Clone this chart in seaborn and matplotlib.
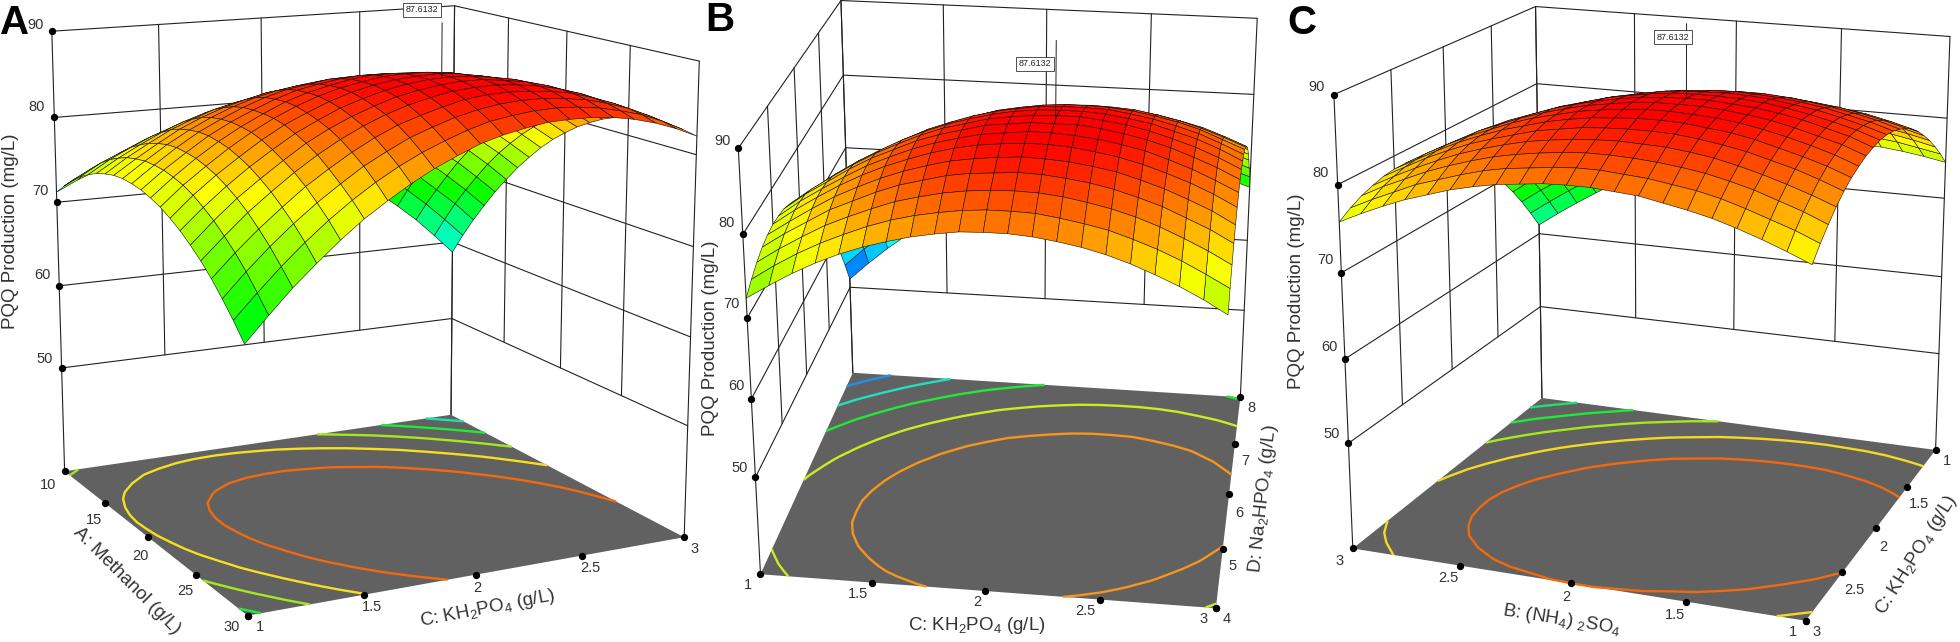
import numpy as np
import matplotlib
matplotlib.use("Agg")
import matplotlib.pyplot as plt
import seaborn as sns
from mpl_toolkits.mplot3d.art3d import Poly3DCollection

sns.set_theme(style="white")
plt.rcParams['font.family'] = ['Liberation Sans', 'DejaVu Sans']
plt.rcParams['mathtext.fontset'] = 'custom'
plt.rcParams['mathtext.rm'] = 'Liberation Sans'
plt.rcParams['mathtext.default'] = 'regular'

W, H = 1960, 642
S = 900

z_ticks = [50, 60, 70, 80, 90]
floor_z = 37.2
peak_label = "87.6132"

# PQQ values
kh2po4_up = [1, 1.1, 1.2, 1.3, 1.4, 1.5, 1.6, 1.7, 1.8, 1.9, 2, 2.1, 2.2, 2.3, 2.4, 2.5, 2.6, 2.7, 2.8, 2.9, 3]
kh2po4_down = [3, 2.9, 2.8, 2.7, 2.6, 2.5, 2.4, 2.3, 2.2, 2.1, 2, 1.9, 1.8, 1.7, 1.6, 1.5, 1.4, 1.3, 1.2, 1.1, 1]
methanol = [10, 11, 12, 13, 14, 15, 16, 17, 18, 19, 20, 21, 22, 23, 24, 25, 26, 27, 28, 29, 30]
na2hpo4 = [4, 4.2, 4.4, 4.6, 4.8, 5, 5.2, 5.4, 5.6, 5.8, 6, 6.2, 6.4, 6.6, 6.8, 7, 7.2, 7.4, 7.6, 7.8, 8]
nh4so4 = [3, 2.9, 2.8, 2.7, 2.6, 2.5, 2.4, 2.3, 2.2, 2.1, 2, 1.9, 1.8, 1.7, 1.6, 1.5, 1.4, 1.3, 1.2, 1.1, 1]

pqq_a = [
    [71.2, 72.4, 73.4, 74.2, 74.8, 75.2, 75.4, 75.5, 75.3, 75.0, 74.5, 73.7, 72.8, 71.7, 70.4, 69.0, 67.3, 65.4, 63.4, 61.1, 58.7],
    [72.4, 73.7, 74.7, 75.6, 76.3, 76.8, 77.1, 77.2, 77.1, 76.8, 76.4, 75.7, 74.9, 73.9, 72.6, 71.3, 69.7, 67.9, 65.9, 63.7, 61.4],
    [73.5, 74.8, 75.9, 76.9, 77.6, 78.2, 78.6, 78.8, 78.7, 78.5, 78.2, 77.6, 76.8, 75.9, 74.7, 73.4, 71.9, 70.2, 68.2, 66.2, 63.9],
    [74.4, 75.8, 76.9, 78.0, 78.8, 79.4, 79.9, 80.2, 80.2, 80.1, 79.8, 79.3, 78.6, 77.7, 76.6, 75.4, 73.9, 72.3, 70.4, 68.4, 66.2],
    [75.1, 76.6, 77.8, 78.9, 79.8, 80.5, 81.1, 81.4, 81.5, 81.5, 81.2, 80.8, 80.2, 79.4, 78.4, 77.2, 75.8, 74.2, 72.5, 70.5, 68.4],
    [75.7, 77.2, 78.5, 79.7, 80.7, 81.5, 82.1, 82.5, 82.7, 82.7, 82.5, 82.2, 81.6, 80.9, 80.0, 78.9, 77.5, 76.0, 74.4, 72.5, 70.4],
    [76.1, 77.7, 79.1, 80.4, 81.4, 82.3, 82.9, 83.4, 83.7, 83.8, 83.7, 83.4, 82.9, 82.3, 81.4, 80.4, 79.1, 77.7, 76.1, 74.3, 72.3],
    [76.4, 78.0, 79.5, 80.9, 82.0, 82.9, 83.6, 84.2, 84.5, 84.7, 84.7, 84.5, 84.0, 83.5, 82.7, 81.7, 80.5, 79.2, 77.7, 75.9, 74.0],
    [76.5, 78.2, 79.8, 81.2, 82.4, 83.4, 84.2, 84.8, 85.2, 85.5, 85.5, 85.4, 85.0, 84.5, 83.8, 82.9, 81.8, 80.5, 79.1, 77.4, 75.6],
    [76.4, 78.2, 79.9, 81.4, 82.6, 83.7, 84.6, 85.3, 85.7, 86.1, 86.2, 86.1, 85.8, 85.4, 84.8, 83.9, 82.9, 81.7, 80.3, 78.7, 77.0],
    [76.2, 78.1, 79.8, 81.4, 82.7, 83.8, 84.8, 85.6, 86.1, 86.5, 86.7, 86.7, 86.5, 86.2, 85.6, 84.8, 83.9, 82.8, 81.4, 79.9, 78.2],
    [75.8, 77.8, 79.6, 81.2, 82.6, 83.8, 84.9, 85.7, 86.3, 86.8, 87.1, 87.1, 87.0, 86.8, 86.2, 85.5, 84.7, 83.6, 82.4, 80.9, 79.3],
    [75.3, 77.4, 79.2, 80.9, 82.4, 83.7, 84.8, 85.7, 86.4, 86.9, 87.3, 87.4, 87.4, 87.2, 86.7, 86.1, 85.3, 84.3, 83.2, 81.8, 80.2],
    [74.6, 76.8, 78.7, 80.4, 82.0, 83.4, 84.5, 85.5, 86.3, 86.9, 87.3, 87.5, 87.6, 87.4, 87.0, 86.5, 85.8, 84.9, 83.8, 82.5, 81.0],
    [73.8, 76.0, 78.0, 79.8, 81.4, 82.9, 84.1, 85.2, 86.0, 86.7, 87.2, 87.5, 87.6, 87.5, 87.2, 86.8, 86.1, 85.3, 84.2, 83.0, 81.6],
    [72.8, 75.1, 77.2, 79.0, 80.7, 82.3, 83.6, 84.7, 85.6, 86.4, 86.9, 87.3, 87.5, 87.5, 87.2, 86.9, 86.3, 85.5, 84.5, 83.4, 82.1],
    [71.7, 74.0, 76.2, 78.1, 79.9, 81.5, 82.9, 84.1, 85.1, 85.9, 86.5, 87.0, 87.2, 87.3, 87.1, 86.8, 86.3, 85.6, 84.7, 83.6, 82.4],
    [70.4, 72.8, 75.0, 77.0, 78.9, 80.5, 82.0, 83.3, 84.4, 85.2, 85.9, 86.5, 86.8, 86.9, 86.8, 86.6, 86.2, 85.5, 84.7, 83.7, 82.5],
    [68.9, 71.4, 73.7, 75.8, 77.7, 79.4, 81.0, 82.3, 83.5, 84.4, 85.2, 85.8, 86.2, 86.4, 86.4, 86.2, 85.9, 85.3, 84.6, 83.6, 82.5],
    [67.3, 69.8, 72.2, 74.4, 76.4, 78.2, 79.8, 81.2, 82.4, 83.4, 84.3, 85.0, 85.4, 85.7, 85.8, 85.7, 85.4, 84.9, 84.3, 83.4, 82.3],
    [65.5, 68.1, 70.6, 72.8, 74.9, 76.8, 78.4, 79.9, 81.2, 82.3, 83.3, 84.0, 84.5, 84.9, 85.0, 85.0, 84.8, 84.4, 83.8, 83.0, 82.0],
]

pqq_b = [
    [72.4, 74.1, 75.7, 77.1, 78.3, 79.3, 80.1, 80.8, 81.3, 81.7, 81.8, 81.8, 81.6, 81.2, 80.7, 80.0, 79.1, 78.0, 76.8, 75.4, 73.8],
    [73.5, 75.3, 76.9, 78.3, 79.5, 80.6, 81.5, 82.2, 82.7, 83.1, 83.3, 83.3, 83.2, 82.8, 82.3, 81.7, 80.8, 79.8, 78.6, 77.2, 75.7],
    [74.4, 76.2, 77.8, 79.3, 80.5, 81.6, 82.6, 83.3, 83.9, 84.3, 84.5, 84.6, 84.5, 84.2, 83.7, 83.1, 82.3, 81.3, 80.1, 78.8, 77.3],
    [75.1, 76.9, 78.5, 80.1, 81.3, 82.5, 83.5, 84.2, 84.9, 85.3, 85.5, 85.7, 85.6, 85.3, 84.9, 84.3, 83.5, 82.6, 81.4, 80.2, 78.7],
    [75.5, 77.3, 79.0, 80.6, 81.9, 83.1, 84.1, 84.9, 85.6, 86.0, 86.3, 86.5, 86.4, 86.2, 85.8, 85.3, 84.5, 83.6, 82.5, 81.3, 79.8],
    [75.7, 77.6, 79.3, 80.9, 82.3, 83.5, 84.5, 85.4, 86.1, 86.6, 86.9, 87.1, 87.1, 86.9, 86.5, 86.0, 85.3, 84.4, 83.4, 82.2, 80.8],
    [75.6, 77.6, 79.3, 80.9, 82.4, 83.6, 84.7, 85.6, 86.3, 86.9, 87.2, 87.5, 87.5, 87.3, 87.0, 86.5, 85.9, 85.0, 84.0, 82.8, 81.5],
    [75.4, 77.4, 79.1, 80.8, 82.3, 83.5, 84.7, 85.6, 86.3, 87.0, 87.3, 87.6, 87.6, 87.6, 87.3, 86.8, 86.2, 85.4, 84.4, 83.3, 82.0],
    [74.9, 76.9, 78.7, 80.4, 81.9, 83.2, 84.4, 85.4, 86.1, 86.8, 87.2, 87.5, 87.6, 87.6, 87.3, 86.9, 86.3, 85.5, 84.6, 83.5, 82.2],
    [74.2, 76.2, 78.1, 79.8, 81.3, 82.7, 83.9, 84.9, 85.7, 86.4, 86.9, 87.2, 87.3, 87.3, 87.1, 86.7, 86.2, 85.4, 84.6, 83.5, 82.2],
    [73.2, 75.3, 77.2, 79.0, 80.5, 81.9, 83.2, 84.2, 85.1, 85.8, 86.3, 86.7, 86.8, 86.8, 86.7, 86.3, 85.8, 85.1, 84.3, 83.2, 82.0],
    [72.0, 74.2, 76.1, 77.9, 79.5, 80.9, 82.2, 83.3, 84.2, 85.0, 85.5, 85.9, 86.1, 86.1, 86.0, 85.7, 85.2, 84.6, 83.8, 82.7, 81.6],
    [70.6, 72.8, 74.8, 76.6, 78.3, 79.7, 81.0, 82.1, 83.1, 83.9, 84.5, 84.9, 85.1, 85.2, 85.1, 84.9, 84.4, 83.8, 83.0, 82.0, 80.9],
    [69.0, 71.2, 73.3, 75.1, 76.8, 78.3, 79.6, 80.8, 81.8, 82.6, 83.2, 83.7, 84.0, 84.1, 84.0, 83.8, 83.4, 82.8, 82.1, 81.1, 80.0],
    [67.1, 69.4, 71.5, 73.4, 75.1, 76.6, 78.0, 79.2, 80.2, 81.1, 81.7, 82.2, 82.6, 82.7, 82.7, 82.5, 82.1, 81.6, 80.9, 80.0, 78.9],
    [65.0, 67.4, 69.5, 71.4, 73.2, 74.7, 76.1, 77.4, 78.4, 79.3, 80.0, 80.5, 80.9, 81.1, 81.1, 81.0, 80.6, 80.1, 79.5, 78.6, 77.6],
    [62.7, 65.1, 67.2, 69.2, 71.0, 72.6, 74.0, 75.3, 76.4, 77.3, 78.1, 78.6, 79.0, 79.3, 79.3, 79.2, 78.9, 78.4, 77.8, 77.0, 76.0],
    [60.2, 62.6, 64.7, 66.8, 68.6, 70.2, 71.7, 73.0, 74.2, 75.1, 75.9, 76.5, 76.9, 77.2, 77.3, 77.2, 77.0, 76.5, 75.9, 75.2, 74.2],
    [57.4, 59.8, 62.0, 64.1, 65.9, 67.6, 69.2, 70.5, 71.7, 72.7, 73.5, 74.1, 74.6, 74.9, 75.0, 75.0, 74.8, 74.4, 73.8, 73.1, 72.1],
    [54.4, 56.9, 59.1, 61.2, 63.1, 64.8, 66.4, 67.8, 69.0, 70.0, 70.9, 71.5, 72.1, 72.4, 72.6, 72.6, 72.4, 72.0, 71.5, 70.8, 69.9],
    [51.2, 53.7, 56.0, 58.1, 60.0, 61.8, 63.4, 64.8, 66.0, 67.1, 68.0, 68.7, 69.3, 69.7, 69.9, 69.9, 69.7, 69.4, 68.9, 68.3, 67.4],
]

pqq_c = [
    [75.8, 77.0, 78.1, 79.1, 79.9, 80.7, 81.3, 81.8, 82.1, 82.4, 82.5, 82.5, 82.3, 82.1, 81.6, 81.1, 80.5, 79.7, 78.8, 77.8, 76.7],
    [76.7, 77.9, 79.0, 80.1, 80.9, 81.7, 82.4, 82.9, 83.2, 83.5, 83.7, 83.7, 83.5, 83.3, 82.9, 82.5, 81.9, 81.1, 80.2, 79.3, 78.2],
    [77.4, 78.7, 79.8, 80.9, 81.8, 82.6, 83.3, 83.8, 84.2, 84.5, 84.7, 84.7, 84.6, 84.4, 84.1, 83.7, 83.1, 82.4, 81.5, 80.6, 79.5],
    [77.9, 79.2, 80.4, 81.5, 82.5, 83.3, 84.0, 84.6, 85.0, 85.3, 85.5, 85.6, 85.5, 85.4, 85.1, 84.7, 84.1, 83.4, 82.6, 81.7, 80.7],
    [78.3, 79.6, 80.9, 82.0, 83.0, 83.8, 84.5, 85.2, 85.6, 86.0, 86.2, 86.3, 86.3, 86.2, 85.9, 85.5, 85.0, 84.3, 83.6, 82.7, 81.7],
    [78.5, 79.8, 81.1, 82.3, 83.3, 84.2, 84.9, 85.6, 86.1, 86.5, 86.7, 86.9, 86.9, 86.8, 86.5, 86.2, 85.7, 85.0, 84.3, 83.5, 82.5],
    [78.5, 79.9, 81.2, 82.4, 83.4, 84.4, 85.2, 85.8, 86.4, 86.8, 87.1, 87.3, 87.3, 87.2, 87.0, 86.7, 86.2, 85.6, 84.9, 84.1, 83.1],
    [78.4, 79.8, 81.1, 82.4, 83.4, 84.4, 85.2, 85.9, 86.5, 86.9, 87.3, 87.5, 87.5, 87.5, 87.3, 87.0, 86.6, 86.0, 85.3, 84.6, 83.6],
    [78.1, 79.6, 80.9, 82.2, 83.3, 84.2, 85.1, 85.8, 86.4, 86.9, 87.3, 87.5, 87.6, 87.6, 87.4, 87.2, 86.8, 86.3, 85.6, 84.9, 83.9],
    [77.6, 79.1, 80.5, 81.8, 82.9, 83.9, 84.8, 85.5, 86.2, 86.7, 87.1, 87.4, 87.5, 87.5, 87.4, 87.2, 86.8, 86.3, 85.7, 85.0, 84.1],
    [77.0, 78.5, 79.9, 81.2, 82.4, 83.4, 84.3, 85.1, 85.8, 86.3, 86.8, 87.1, 87.2, 87.3, 87.2, 87.0, 86.6, 86.2, 85.6, 84.9, 84.1],
    [76.2, 77.7, 79.1, 80.5, 81.7, 82.7, 83.7, 84.5, 85.2, 85.8, 86.3, 86.6, 86.8, 86.9, 86.8, 86.6, 86.3, 85.9, 85.3, 84.7, 83.9],
    [75.2, 76.8, 78.2, 79.6, 80.8, 81.9, 82.9, 83.8, 84.5, 85.1, 85.6, 85.9, 86.2, 86.3, 86.3, 86.1, 85.8, 85.4, 84.9, 84.3, 83.5],
    [74.0, 75.7, 77.1, 78.5, 79.8, 80.9, 81.9, 82.8, 83.6, 84.2, 84.7, 85.1, 85.4, 85.5, 85.5, 85.4, 85.1, 84.8, 84.3, 83.7, 83.0],
    [72.7, 74.4, 75.9, 77.3, 78.6, 79.8, 80.8, 81.7, 82.5, 83.2, 83.7, 84.1, 84.4, 84.6, 84.6, 84.6, 84.3, 84.0, 83.6, 83.0, 82.3],
    [71.2, 72.9, 74.5, 75.9, 77.2, 78.4, 79.5, 80.4, 81.3, 82.0, 82.5, 83.0, 83.3, 83.5, 83.5, 83.5, 83.3, 83.0, 82.6, 82.1, 81.4],
    [69.5, 71.3, 72.9, 74.3, 75.7, 76.9, 78.0, 79.0, 79.9, 80.6, 81.2, 81.7, 82.0, 82.2, 82.3, 82.3, 82.2, 81.9, 81.5, 81.0, 80.3],
    [67.7, 69.5, 71.1, 72.6, 74.0, 75.2, 76.4, 77.4, 78.3, 79.0, 79.7, 80.2, 80.5, 80.8, 80.9, 80.9, 80.8, 80.6, 80.2, 79.7, 79.1],
    [65.7, 67.5, 69.1, 70.7, 72.1, 73.4, 74.6, 75.6, 76.5, 77.3, 78.0, 78.5, 78.9, 79.2, 79.4, 79.4, 79.3, 79.1, 78.8, 78.3, 77.7],
    [63.5, 65.3, 67.0, 68.6, 70.0, 71.4, 72.6, 73.6, 74.6, 75.4, 76.1, 76.7, 77.1, 77.4, 77.6, 77.7, 77.6, 77.5, 77.2, 76.7, 76.2],
    [61.2, 63.0, 64.7, 66.3, 67.8, 69.2, 70.4, 71.5, 72.5, 73.3, 74.1, 74.7, 75.1, 75.5, 75.7, 75.8, 75.8, 75.7, 75.4, 75.0, 74.5],
]

levels_a = [62, 67, 72, 77, 82]
levels_b = [56, 62, 68, 74.5, 81]
levels_c = [64.5, 69, 73.5, 78, 82.5]
colors_a = ["#1fe0a8", "#22e83a", "#a6e820", "#f5e020", "#f2690f"]
colors_b = ["#1e90f0", "#1fe0c0", "#22e83a", "#c8ee20", "#f7941d"]
colors_c = ["#1fe070", "#22e83a", "#a6e820", "#f5d820", "#f2690f"]
surface_cmap = sns.blend_palette(["#0000ff", "#00ffff", "#00ff00", "#ffff00", "#ff0000"], as_cmap=True)

panels = [
    dict(letter="A", letter_xy=(15, 23), x=kh2po4_up, y=methanol, z=pqq_a, xlim=(1, 3), ylim=(30, 10),
         xticks=[1, 1.5, 2, 2.5, 3], yticks=[10, 15, 20, 25, 30], levels=levels_a, colors=colors_a,
         view=(13.33, -116.82, 0), aspect=(1, 1.01, 1.002), zoom=.8795, focal=.5066, origin=(-100.4, -99.4),
         peak=(2.16, 24), box_xy=(422, 10), line_top=93.5,
         x_wall=10, y_wall=3, z_axis=(1, 10), x_edge=30, y_edge=1,
         ztick_xy=[(45, 359), (42, 275), (40, 191), (37, 107), (36, 25)],
         xtick_xy=[(260, 627), (372, 607), (477, 588), (590, 568), (695, 549)],
         ytick_xy=[(48, 485), (94, 520), (140, 556), (185, 591), (232, 627)],
         xtitle="C: KH$_2$PO$_4$ (g/L)", xtitle_xy=(488, 609), xtitle_rot=11,
         ytitle="A: Methanol (g/L)", ytitle_xy=(127, 581), ytitle_rot=-45,
         ztitle_xy=(11, 231)),
    dict(letter="B", letter_xy=(720, 20), x=kh2po4_up, y=na2hpo4, z=pqq_b, xlim=(1, 3), ylim=(4, 8),
         xticks=[1, 1.5, 2, 2.5, 3], yticks=[4, 5, 6, 7, 8], levels=levels_b, colors=colors_b,
         view=(24.30, -82.06, -.03), aspect=(1, 1.005, 1.001), zoom=.822, focal=.4804, origin=(555.3, -106.8),
         peak=(2.2, 5.5), box_xy=(1035, 64), line_top=97,
         x_wall=8, y_wall=1, z_axis=(1, 4), x_edge=4, y_edge=3,
         ztick_xy=[(740, 468), (736, 386), (731, 304), (727, 223), (723, 141)],
         xtick_xy=[(748, 585), (858, 594), (977, 602), (1085, 611), (1204, 619)],
         ytick_xy=[(1227, 619), (1233, 566), (1239, 513), (1245, 461), (1251, 408)],
         xtitle="C: KH$_2$PO$_4$ (g/L)", xtitle_xy=(977, 626), xtitle_rot=0,
         ytitle="D: Na$_2$HPO$_4$ (g/L)", ytitle_xy=(1263, 499), ytitle_rot=84,
         ztitle_xy=(710, 338)),
    dict(letter="C", letter_xy=(1302, 23), x=nh4so4, y=kh2po4_down, z=pqq_c, xlim=(3, 1), ylim=(3, 1),
         xticks=[3, 2.5, 2, 1.5, 1], yticks=[3, 2.5, 2, 1.5, 1], levels=levels_c, colors=colors_c,
         view=(17.30, -69.0, .07), aspect=(1, .995, .978), zoom=.8574, focal=.5023, origin=(1196.4, -106.5),
         peak=(1.8, 2.2), box_xy=(1673, 37), line_top=96,
         x_wall=1, y_wall=3, z_axis=(3, 3), x_edge=3, y_edge=1,
         ztick_xy=[(1332, 434), (1329, 347), (1325, 260), (1321, 173), (1317, 87)],
         xtick_xy=[(1340, 561), (1448, 578), (1566, 597), (1675, 615), (1793, 632)],
         ytick_xy=[(1817, 632), (1854, 590), (1883, 547), (1919, 504), (1947, 461)],
         xtitle="B: (NH$_4$) $_2$SO$_4$", xtitle_xy=(1562, 620), xtitle_rot=-9,
         ytitle="C: KH$_2$PO$_4$ (g/L)", ytitle_xy=(1917, 555), ytitle_rot=58,
         ztitle_xy=(1296, 291)),
]

fig = plt.figure(figsize=(W / 100, H / 100), dpi=100, facecolor="white")

for p in panels:
    ax = fig.add_axes([p["origin"][0] / W, p["origin"][1] / H, S / W, S / H], projection="3d", computed_zorder=False)
    ax.set_axis_off()
    ax.patch.set_alpha(0)
    ax.set_xlim(*p["xlim"])
    ax.set_ylim(*p["ylim"])
    ax.set_zlim(floor_z, 90)
    ax.view_init(*p["view"])
    ax.set_box_aspect(p["aspect"], zoom=p["zoom"])
    ax.set_proj_type("persp", focal_length=p["focal"])

    X, Y = np.meshgrid(p["x"], p["y"])
    Z = np.array(p["z"])
    cell = (Z[:-1, :-1] + Z[1:, :-1] + Z[:-1, 1:] + Z[1:, 1:]) / 4
    cell = np.pad(cell, ((0, 1), (0, 1)), mode="edge")
    fc = surface_cmap((cell - 49) / (87 - 49))

    x0, x1 = p["xlim"]
    y0, y1 = p["ylim"]
    floor = [[(x0, y0, floor_z), (x1, y0, floor_z), (x1, y1, floor_z), (x0, y1, floor_z)]]
    ax.add_collection3d(Poly3DCollection(floor, facecolor="#616161", edgecolor="none", zorder=1))
    ax.contour(X, Y, Z, levels=p["levels"], colors=p["colors"], zdir="z", offset=floor_z,
               linewidths=1.7, zorder=2)

    for zt in z_ticks:
        ax.plot([x0, x1], [p["x_wall"]] * 2, [zt] * 2, color="#222222", lw=.8, zorder=0)
        ax.plot([p["y_wall"]] * 2, [y0, y1], [zt] * 2, color="#222222", lw=.8, zorder=0)
    for xt in p["xticks"][1:-1]:
        ax.plot([xt, xt], [p["x_wall"]] * 2, [50, 90], color="#222222", lw=.8, zorder=0)
    for yt in p["yticks"][1:-1]:
        ax.plot([p["y_wall"]] * 2, [yt, yt], [50, 90], color="#222222", lw=.8, zorder=0)
    for cx, cy in [(x0, p["x_wall"]), (x1, p["x_wall"]), (p["y_wall"], y0), (p["y_wall"], y1)]:
        ax.plot([cx, cx], [cy, cy], [floor_z, 90], color="#222222", lw=.8, zorder=0)

    surf = ax.plot_surface(X, Y, Z, rstride=1, cstride=1, facecolors=fc, shade=False, linewidth=.4, zorder=5)
    surf.set_edgecolor("#111111")

    zx, zy = p["z_axis"]
    ax.scatter([zx] * 5, [zy] * 5, z_ticks, color="black", s=18, depthshade=False, zorder=7)
    ax.scatter(p["xticks"], [p["x_edge"]] * 5, [floor_z] * 5, color="black", s=18, depthshade=False, zorder=7)
    ax.scatter([p["y_edge"]] * 5, p["yticks"], [floor_z] * 5, color="black", s=18, depthshade=False, zorder=7)
    ax.plot([p["peak"][0]] * 2, [p["peak"][1]] * 2, [87.6, p["line_top"]], color="#222222", lw=.7, zorder=6)

    for vals, xys in [(z_ticks, p["ztick_xy"]), (p["xticks"], p["xtick_xy"]), (p["yticks"], p["ytick_xy"])]:
        for v, (tx_, ty_) in zip(vals, xys):
            fig.text(tx_ / W, 1 - ty_ / H, str(v), fontsize=10.5, color="#333333", ha="center", va="center")
    fig.text(p["xtitle_xy"][0] / W, 1 - p["xtitle_xy"][1] / H, p["xtitle"], fontsize=13.5, color="#333333",
             rotation=p["xtitle_rot"], ha="center", va="center", rotation_mode="anchor")
    fig.text(p["ytitle_xy"][0] / W, 1 - p["ytitle_xy"][1] / H, p["ytitle"], fontsize=13.5, color="#333333",
             rotation=p["ytitle_rot"], ha="center", va="center", rotation_mode="anchor")
    fig.text(p["ztitle_xy"][0] / W, 1 - p["ztitle_xy"][1] / H, "PQQ Production (mg/L)", fontsize=13.5,
             color="#333333", rotation=90, ha="center", va="center")
    fig.text(p["letter_xy"][0] / W, 1 - p["letter_xy"][1] / H, p["letter"], fontsize=29, fontweight="bold",
             color="black", ha="center", va="center")
    fig.text(p["box_xy"][0] / W, 1 - p["box_xy"][1] / H, peak_label, fontsize=6.5, color="#222222", ha="center",
             va="center", bbox=dict(boxstyle="square,pad=0.3", fc="white", ec="#333333", lw=.6))

fig.savefig("out.png", dpi=100)
